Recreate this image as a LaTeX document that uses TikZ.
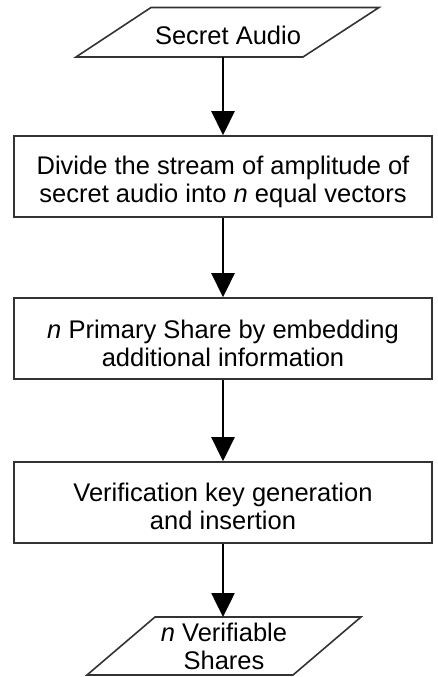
\documentclass[tikz,border=0pt]{standalone}
\usepackage{fontspec}
\setmainfont{Liberation Sans}
\usetikzlibrary{arrows.meta}
\begin{document}
\begin{tikzpicture}[x=1pt,y=-1pt,
  every node/.style={font=\fontsize{25.5}{28.5}\selectfont, text=black},
  box/.style={draw=black!80, line width=1.6pt, minimum width=418pt, minimum height=81pt, inner sep=0pt},
  para/.style={draw=black!80, line width=1.6pt, line join=miter},
  label/.style={align=center, inner sep=0pt},
  flow/.style={line width=2.6pt, -{Triangle[length=24pt,width=23pt]}}
]
\useasboundingbox (0,0) rectangle (438,677);
% top parallelogram
\draw[para] (151,7.5) -- (379,7.5) -- (303,57) -- (76,57) -- cycle;
\node[label] (src) at (228,35.5) {Secret Audio};
\coordinate (srcS) at (223,57);
% boxes
\node[box] (b1) at (223,176.5) {};
\node[label] (t1) at (223,182) {Divide the stream of amplitude of\\secret audio into \textit{n} equal vectors};
\node[box] (b2) at (223,338.5) {};
\node[label] (t2) at (223,343.5) {\textit{n} Primary Share by embedding\\additional information};
\node[box] (b3) at (223,502.5) {};
\node[label] (t3) at (223,506.5) {Verification key generation\\and insertion};
% bottom parallelogram
\draw[para] (155,617) -- (361,617) -- (293,675) -- (87,675) -- cycle;
\node[label] (out) at (224,646.5) {\textit{n} Verifiable\\Shares};
\coordinate (outN) at (223,617);
% arrows
\draw[flow] (srcS) -- (b1.north);
\draw[flow] (b1.south) -- (b2.north);
\draw[flow] (b2.south) -- (b3.north);
\draw[flow] (b3.south) -- (outN);
\end{tikzpicture}
\end{document}
